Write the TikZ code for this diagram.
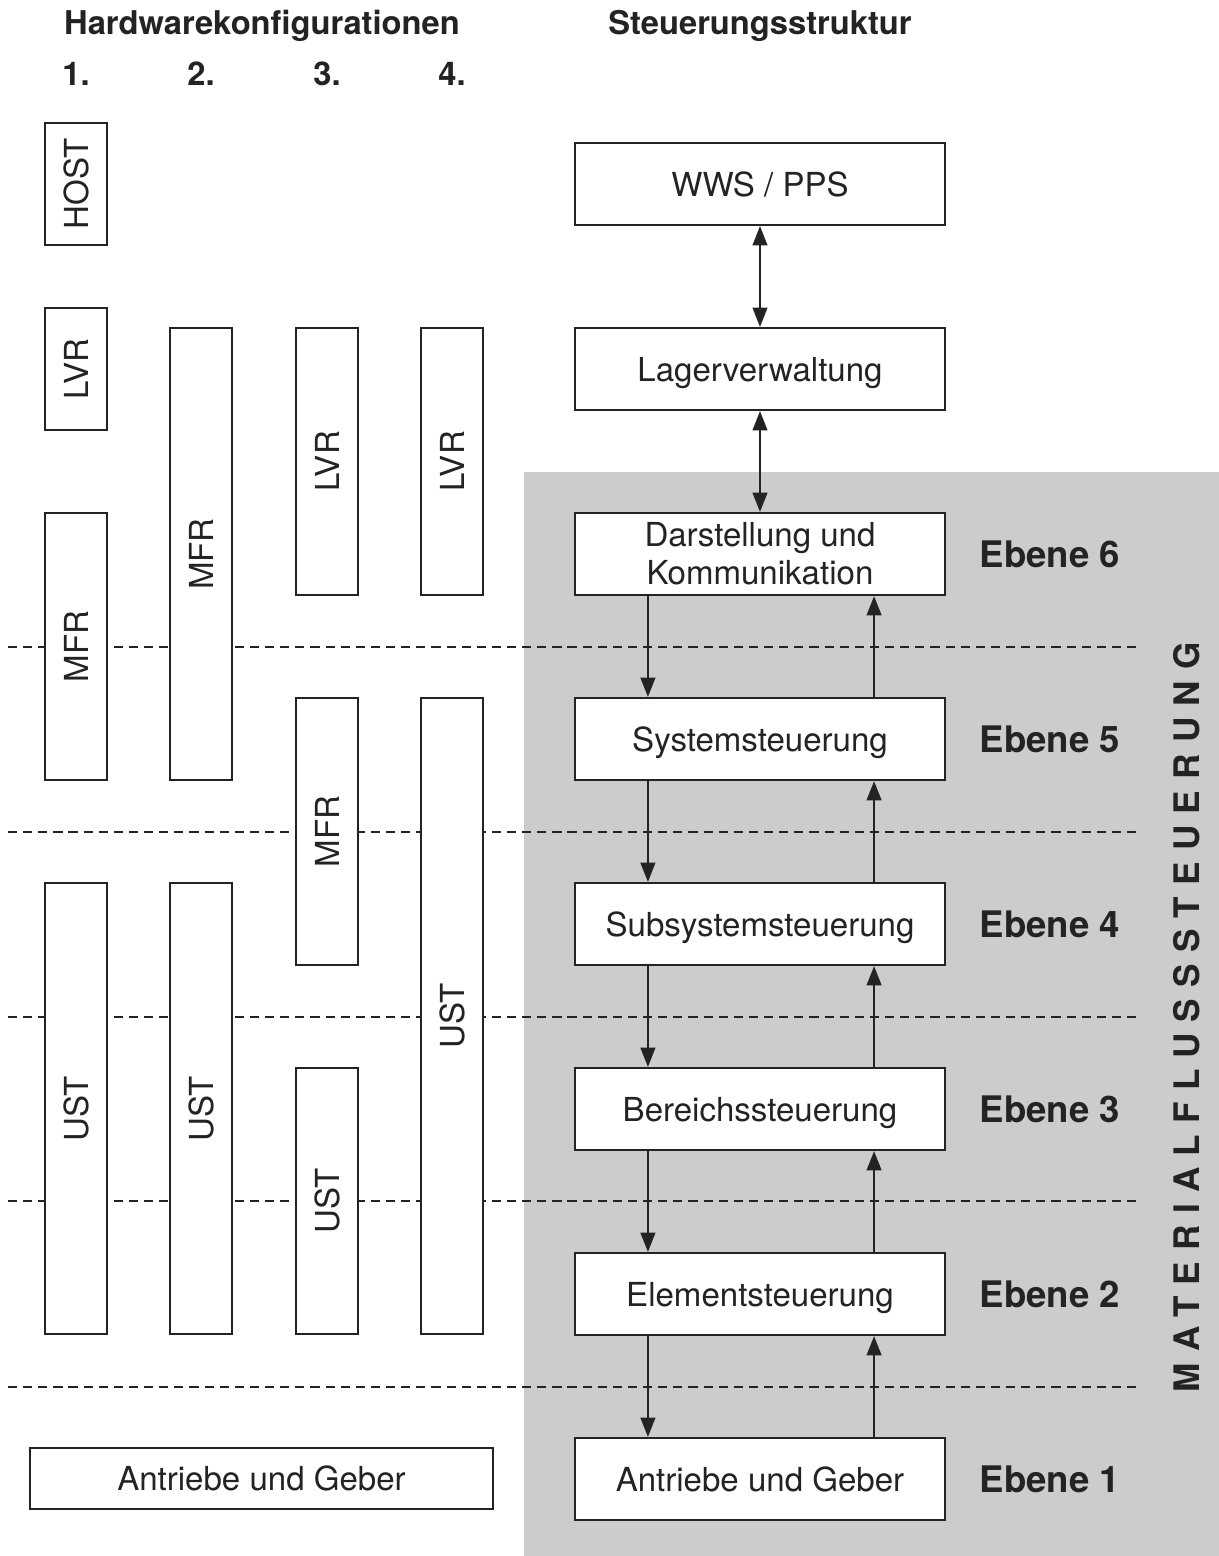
\documentclass[tikz,border=0pt]{standalone}
\usepackage{fontspec}
\setmainfont{TeX Gyre Heros}
\usetikzlibrary{positioning,arrows.meta}
\definecolor{fieldgray}{RGB}{203,204,206}
\definecolor{ink}{RGB}{35,35,35}
\tikzset{
  box/.style={draw=ink, line width=0.6pt, fill=white, inner sep=0pt,
    font=\fontsize{9.4}{10.8}\selectfont, text=ink},
  stbox/.style={box, minimum width=3.7cm, minimum height=0.82cm, align=center},
  stline/.style={stbox, text depth=0pt},
  hwbox/.style={box, rotate=90, minimum height=0.62cm},
  level/.style={font=\fontsize{10.4}{12}\selectfont\bfseries, text=ink, inner sep=0pt},
  head/.style={font=\fontsize{9.3}{11}\selectfont\bfseries, text=ink, inner sep=0pt, text depth=0pt},
  layer/.style={ink, line width=0.55pt, dash pattern=on 2.6pt off 1.7pt},
  flow/.style={ink, line width=0.55pt, -{Triangle[length=5.5pt,width=4.2pt]}},
  flowboth/.style={ink, line width=0.55pt, {Triangle[length=5.5pt,width=4.2pt]}-{Triangle[length=5.5pt,width=4.2pt]}},
}
\begin{document}
\begin{tikzpicture}[x=0.01cm, y=-0.01cm]
   \useasboundingbox (0,0) rectangle (1219,1556);
   \fill[fieldgray] (524,472) rectangle (1219,1556);

   % Ebenengrenzen
   \foreach \yy in {647,832,1017,1201,1387}
      \draw[layer] (8,\yy) -- (1140,\yy);

   % Ueberschriften
   \node[head] (hw) at (262,22) {Hardwarekonfigurationen};
   \node[head] (st) at (760,22) {Steuerungsstruktur};
   \foreach \n/\xx in {1/76,2/201,3/327,4/452}
      \node[head] (nr\n) at (\xx,74) {\n.};

   % Hardwarekonfigurationen
   \node[hwbox, minimum width=1.22cm] (host1) at (76,184) {HOST};
   \node[hwbox, minimum width=1.22cm] (lvr1) at (76,369) {LVR};
   \node[hwbox, minimum width=2.67cm] (mfr1) at (76,646.5) {MFR};
   \node[hwbox, minimum width=4.51cm] (ust1) at (76,1108.5) {UST};
   \node[hwbox, minimum width=4.52cm] (mfr2) at (201,554) {MFR};
   \node[hwbox, minimum width=4.51cm] (ust2) at (201,1108.5) {UST};
   \node[hwbox, minimum width=2.67cm] (lvr3) at (327,461.5) {LVR};
   \node[hwbox, minimum width=2.67cm] (mfr3) at (327,831.5) {MFR};
   \node[hwbox, minimum width=2.66cm] (ust3) at (327,1201) {UST};
   \node[hwbox, minimum width=2.67cm] (lvr4) at (452,461.5) {LVR};
   \node[hwbox, minimum width=6.36cm] (ust4) at (452,1016) {UST};
   \node[box, minimum width=4.63cm, minimum height=0.61cm] (ag0) at (261.5,1478.5) {Antriebe und Geber};

   % Steuerungsstruktur
   \node[stline] (wws) at (760,184) {WWS / PPS};
   \node[stline] (lvw) at (760,369) {Lagerverwaltung};
   \node[stbox] (e6) at (760,554) {Darstellung und\\Kommunikation};
   \node[stline] (e5) at (760,739) {Systemsteuerung};
   \node[stline] (e4) at (760,924) {Subsystemsteuerung};
   \node[stline] (e3) at (760,1109) {Bereichssteuerung};
   \node[stline] (e2) at (760,1294) {Elementsteuerung};
   \node[stline] (e1) at (760,1479) {Antriebe und Geber};

   \foreach \i in {1,...,6}
      \node[level, right=0.33cm of e\i] (lab\i) {Ebene \i};

   \draw[flowboth] (wws) -- (lvw);
   \draw[flowboth] (lvw) -- (e6);
   \foreach \a/\b in {6/5,5/4,4/3,3/2,2/1} {
      \draw[flow] ([xshift=-1.12cm]e\a.south) -- ([xshift=-1.12cm]e\b.north);
      \draw[flow] ([xshift=1.14cm]e\b.north) -- ([xshift=1.14cm]e\a.south);
   }

   \node[rotate=90, text=ink, inner sep=0pt,
      font=\fontsize{10}{12}\selectfont\bfseries\addfontfeature{LetterSpace=32}] (mfs) at (1187,1017) {MATERIALFLUSSSTEUERUNG};
\end{tikzpicture}
\end{document}
